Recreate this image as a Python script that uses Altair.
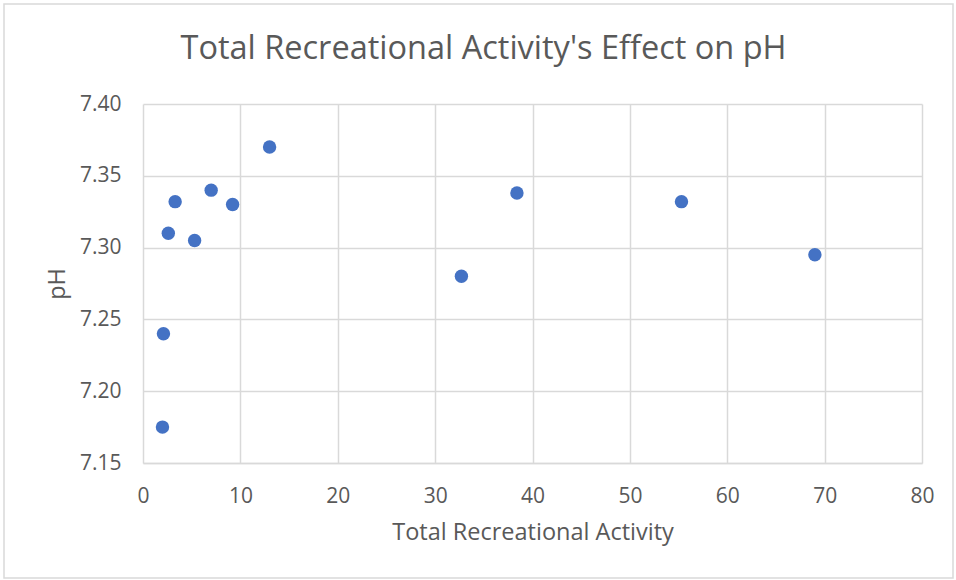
import altair as alt
import pandas as pd

activity = [2.0, 2.1, 2.6, 3.3, 5.3, 7.0, 9.2, 13.0, 32.7, 38.4, 55.3, 69.0]
ph = [7.175, 7.24, 7.31, 7.332, 7.305, 7.34, 7.33, 7.37, 7.28, 7.338, 7.332, 7.295]
x_ticks = [0, 10, 20, 30, 40, 50, 60, 70, 80]
y_ticks = [7.15, 7.20, 7.25, 7.30, 7.35, 7.40]

df = pd.DataFrame({"activity": activity, "ph": ph})

W, H = 779, 359
FONT = "Open Sans"
GRAY = "#595959"
GRID = "#d9d9d9"

points = alt.Chart(df).mark_circle(size=180, color="#4472C4", opacity=1).encode(
    x=alt.X("activity:Q", scale=alt.Scale(domain=[0, 80], nice=False),
            axis=alt.Axis(values=x_ticks, title="Total Recreational Activity",
                          grid=True, ticks=False, domain=True, domainColor=GRID,
                          domainWidth=1.5, labelPadding=22, titlePadding=14,
                          labelFlush=False)),
    y=alt.Y("ph:Q", scale=alt.Scale(domain=[7.15, 7.40], nice=False, zero=False),
            axis=alt.Axis(values=y_ticks, format=".2f", title="pH", grid=True,
                          ticks=False, domain=False, labelPadding=22, titlePadding=10,
                          labelFlush=False)),
)

border = alt.Chart(alt.Data(values=[{}])).mark_rect(
    fill=None, stroke=GRID, strokeWidth=1.5
).encode(
    x=alt.value(-139), x2=alt.value(810), y=alt.value(-100), y2=alt.value(474)
)

chart = alt.layer(border, points).properties(
    width=W, height=H,
    title=alt.TitleParams("Total Recreational Activity's Effect on pH",
                          anchor="middle", dx=-49, offset=-62, font=FONT,
                          fontSize=32.5, fontWeight="normal", color=GRAY),
    autosize=alt.AutoSizeParams(type="none"),
    padding={"left": 143, "top": 104, "right": 34, "bottom": 117},
    background="white",
).configure_view(stroke=None).configure_axis(
    labelFont=FONT, labelFontSize=21, labelColor=GRAY,
    titleFont=FONT, titleFontSize=23.5, titleColor=GRAY, titleFontWeight="normal",
    gridColor=GRID, gridWidth=1.5,
)

chart.save("out.html", embed_options={"renderer": "svg", "actions": False})
